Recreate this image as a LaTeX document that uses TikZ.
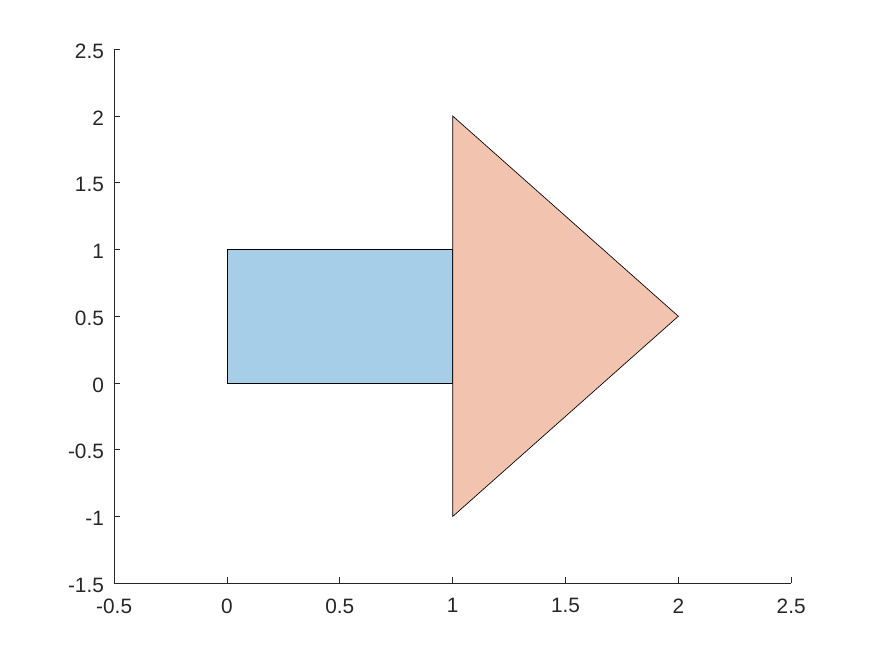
\documentclass[tikz,border=0pt]{standalone}
\usepackage{fontspec}
\setmainfont{Liberation Sans}
\definecolor{axgray}{RGB}{38,38,38}
\definecolor{fillblue}{RGB}{166,206,232}
\definecolor{fillorange}{RGB}{242,195,175}
\begin{document}
\begin{tikzpicture}[
  axisline/.style={draw=axgray, line width=0.6pt},
  patch/.style={draw=black, line width=0.5pt},
  ticklab/.style={text=axgray, inner sep=0pt, font=\fontsize{15.6}{18}\selectfont}
]
\useasboundingbox (0,0) rectangle (656.25pt,492pt);
\begin{scope}[shift={(170.25pt,204.75pt)}, x=169.25pt, y=100.125pt]
  % patches
  \path[patch, fill=fillblue] (0,0) -- (1,0) -- (1,1) -- (0,1) -- cycle;
  \path[patch, fill=fillorange] (1,-1) -- (2,0.5) -- (1,2) -- cycle;
  % axes
  \coordinate (tl) at (-0.5,2.5);
  \coordinate (o) at (-0.5,-1.5);
  \coordinate (br) at (2.5,-1.5);
  \draw[axisline] (tl) -- (o) -- (br);
  % y ticks
  \foreach \v/\t in {-1.5/-1.5,-1/-1,-0.5/-0.5,0/0,0.5/0.5,1/1,1.5/1.5,2/2,2.5/2.5} {
    \coordinate (yt) at (-0.5,\v);
    \draw[axisline] (yt) -- ++(4.5pt,0);
    \node[ticklab, anchor=east] (yl) at ([xshift=-7.5pt,yshift=-1.5pt]yt) {\t};
  }
  % x ticks
  \foreach \v/\t in {-0.5/-0.5,0/0,0.5/0.5,1/1,1.5/1.5,2/2,2.5/2.5} {
    \coordinate (xt) at (\v,-1.5);
    \draw[axisline] (xt) -- ++(0,4.5pt);
    \node[ticklab, anchor=north] (xl) at ([yshift=-11.25pt]xt) {\t};
  }
\end{scope}
\end{tikzpicture}
\end{document}
